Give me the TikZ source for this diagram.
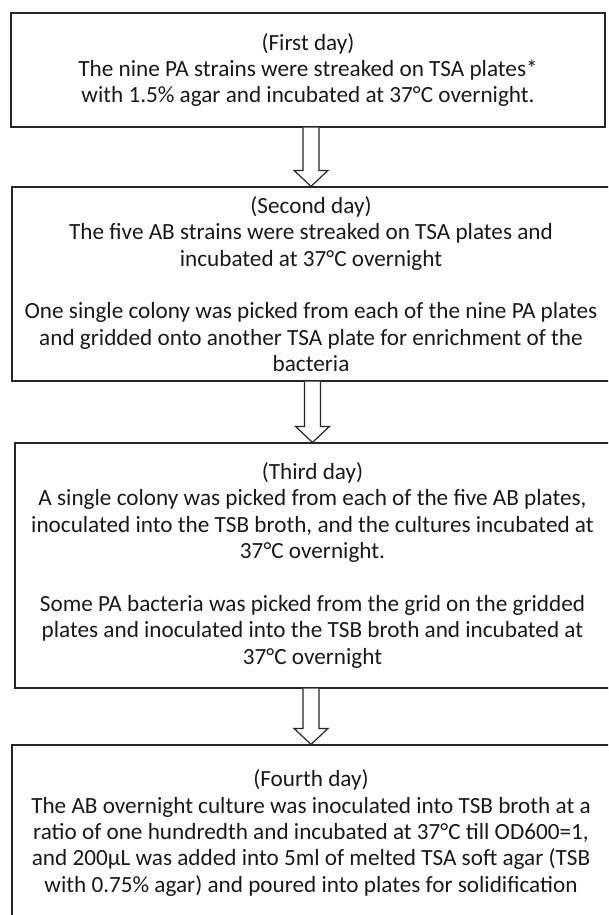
\documentclass[tikz,border=0pt]{standalone}
\usepackage{fontspec}
\setmainfont{Carlito}
\usetikzlibrary{calc}

\tikzset{
  daybox/.style={draw=black!85, line width=1.2pt, align=center, inner sep=0pt,
    font=\fontsize{23.2}{26.4}\selectfont, text=black!90},
  hollowarrow/.style={draw=black!85, line width=1.2pt, fill=white, line join=miter}
}

\begin{document}
\begin{tikzpicture}[x=1pt,y=-1pt]
\useasboundingbox (0,0) rectangle (608,915);
\clip (0,0) rectangle (608,915);

% Days
\node[daybox, minimum width=594pt, minimum height=114pt] (day1) at (308,70)
  {(First day)\\The nine PA strains were streaked on TSA plates*\\with 1.5\% agar and incubated at 37°C overnight.};
\node[daybox, minimum width=598pt, minimum height=194pt] (day2) at (311,284)
  {(Second day)\\The five AB strains were streaked on TSA plates and\\incubated at 37°C overnight\\[26.4pt]One single colony was picked from each of the nine PA plates\\and gridded onto another TSA plate for enrichment of the\\bacteria};
\node[daybox, minimum width=595pt, minimum height=245pt] (day3) at (312.5,565.5)
  {(Third day)\\A single colony was picked from each of the five AB plates,\\inoculated into the TSB broth, and the cultures incubated at\\37°C overnight.\\[26.4pt]Some PA bacteria was picked from the grid on the gridded\\plates and inoculated into the TSB broth and incubated at\\37°C overnight};
\node[daybox, minimum width=598pt, minimum height=176pt] (day4) at (311,833)
  {(Fourth day)\\The AB overnight culture was inoculated into TSB broth at a\\ratio of one hundredth and incubated at 37°C till OD600=1,\\and 200µL was added into 5ml of melted TSA soft agar (TSB\\with 0.75\% agar) and poured into plates for solidification};

% Arrows between days
\draw[hollowarrow] ($(day1.south -| day2.north)+(-8,0)$) -- ($(day2.north)+(-8,-16)$) -- ($(day2.north)+(-17,-16)$) -- (day2.north)
  -- ($(day2.north)+(17,-16)$) -- ($(day2.north)+(8,-16)$) -- ($(day1.south -| day2.north)+(8,0)$);
\draw[hollowarrow] ($(day2.south -| day3.north)+(-8,0)$) -- ($(day3.north)+(-8,-16)$) -- ($(day3.north)+(-17,-16)$) -- (day3.north)
  -- ($(day3.north)+(17,-16)$) -- ($(day3.north)+(8,-16)$) -- ($(day2.south -| day3.north)+(8,0)$);
\draw[hollowarrow] ($(day3.south -| day4.north)+(-8,0)$) -- ($(day4.north)+(-8,-16)$) -- ($(day4.north)+(-17,-16)$) -- (day4.north)
  -- ($(day4.north)+(17,-16)$) -- ($(day4.north)+(8,-16)$) -- ($(day3.south -| day4.north)+(8,0)$);

\end{tikzpicture}
\end{document}
